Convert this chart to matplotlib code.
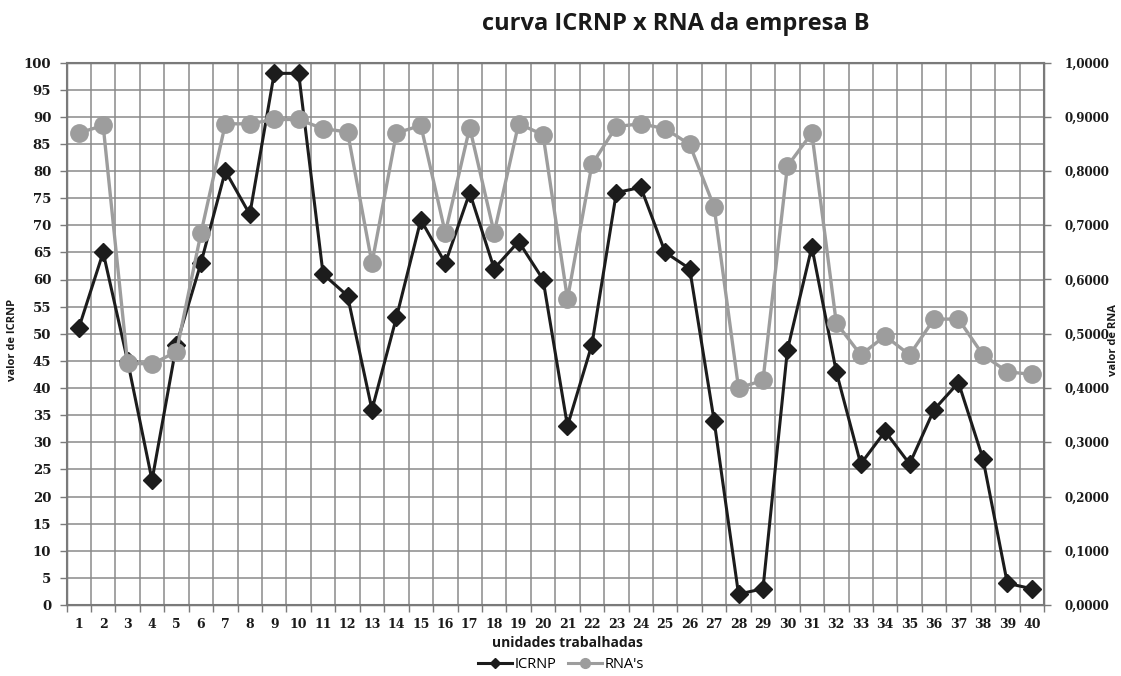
import matplotlib
matplotlib.use("Agg")
import matplotlib.pyplot as plt
from matplotlib.lines import Line2D
from matplotlib.ticker import FuncFormatter, MultipleLocator, FixedLocator
import numpy as np

unidades = list(range(1, 41))
icrnp = [51, 65, 45, 23, 48, 63, 80, 72, 98, 98,
         61, 57, 36, 53, 71, 63, 76, 62, 67, 60,
         33, 48, 76, 77, 65, 62, 34, 2, 3, 47,
         66, 43, 26, 32, 26, 36, 41, 27, 4, 3]
rna = [0.870, 0.884, 0.446, 0.444, 0.467, 0.685, 0.887, 0.887, 0.895, 0.895,
       0.878, 0.872, 0.630, 0.870, 0.884, 0.686, 0.880, 0.686, 0.887, 0.867,
       0.564, 0.812, 0.882, 0.887, 0.878, 0.849, 0.734, 0.400, 0.414, 0.809,
       0.870, 0.520, 0.461, 0.496, 0.461, 0.527, 0.527, 0.461, 0.430, 0.425]

title = "curva ICRNP x RNA da empresa B"
xlabel = "unidades trabalhadas"
ylabel_left = "valor de ICRNP"
ylabel_right = "valor de RNA"

W, H = 1121, 676
fig = plt.figure(figsize=(W / 100, H / 100), dpi=100)
fig.patch.set_facecolor("white")

left, right, top, bottom = 66.5, 1044, 62.5, 605
ax = fig.add_axes([left / W, 1 - bottom / H, (right - left) / W, (bottom - top) / H])
ax2 = ax.twinx()

grid_c = "#8a8a8a"
spine_c = "#7a7a7a"
serif_font = ["DejaVu Serif"]
sans_font = ["Open Sans", "DejaVu Sans"]

ax.set_xlim(0.5, 40.5)
ax.set_ylim(0, 100)
ax2.set_ylim(0, 1.0)

ax.yaxis.set_major_locator(MultipleLocator(5))
ax.xaxis.set_major_locator(FixedLocator(unidades))
ax.xaxis.set_minor_locator(FixedLocator(np.arange(0.5, 41, 1.0)))
ax2.yaxis.set_major_locator(MultipleLocator(0.1))

ax.grid(True, axis="y", which="major", color=grid_c, linewidth=1.1)
ax.grid(True, axis="x", which="minor", color=grid_c, linewidth=1.1)
ax.set_axisbelow(True)

ax.tick_params(axis="x", which="major", length=0, pad=9)
ax.tick_params(axis="x", which="minor", length=5, color=spine_c, width=1.0, direction="out")
ax.tick_params(axis="y", length=5, color=spine_c, width=1.0, pad=6)
ax2.tick_params(axis="y", length=5, color=spine_c, width=1.0, pad=10)

for sp in ax.spines.values():
    sp.set_color(spine_c)
    sp.set_linewidth(1.0)
for sp in ax2.spines.values():
    sp.set_color(spine_c)
    sp.set_linewidth(1.5)

ax.set_xticks(unidades)
ax.set_xticklabels([str(u) for u in unidades], family=serif_font, fontweight="bold",
                   fontsize=9, color="#1a1a1a")
for lab in ax.get_yticklabels():
    lab.set_family(serif_font); lab.set_fontweight("bold"); lab.set_fontsize(9.5); lab.set_color("#1a1a1a")
ax2.yaxis.set_major_formatter(FuncFormatter(lambda v, p: f"{v:.4f}".replace(".", ",")))
for lab in ax2.get_yticklabels():
    lab.set_family(serif_font); lab.set_fontweight("bold"); lab.set_fontsize(8.6); lab.set_color("#1a1a1a")

black = "#1c1c1c"
gray = "#9d9d9d"
ax.plot(unidades, icrnp, color=black, linewidth=2.2, marker="D", markersize=9,
        markerfacecolor=black, markeredgecolor=black, zorder=3, clip_on=False)
ax2.plot(unidades, rna, color=gray, linewidth=2.4, marker="o", markersize=12.5,
         markerfacecolor=gray, markeredgecolor=gray, zorder=3, clip_on=False)

fig.text(676 / W, 1 - 24 / H, title, ha="center", va="center", fontsize=17,
         fontweight="bold", family=sans_font, color="#1a1a1a")
fig.text(567 / W, 1 - 643 / H, xlabel, ha="center", va="center", fontsize=10,
         fontweight="bold", family=sans_font, color="#1a1a1a")
fig.text(13 / W, 1 - 340 / H, ylabel_left, ha="center", va="center", rotation=90,
         fontsize=8, fontweight="bold", family=sans_font, color="#1a1a1a")
fig.text(1114 / W, 1 - 340 / H, ylabel_right, ha="center", va="center", rotation=90,
         fontsize=8, fontweight="bold", family=sans_font, color="#1a1a1a")

handles = [Line2D([0], [0], color=black, linewidth=2.2, marker="D", markersize=5),
           Line2D([0], [0], color=gray, linewidth=2.2, marker="o", markersize=7)]
fig.legend(handles, ["ICRNP", "RNA's"], loc="center", bbox_to_anchor=(561 / W, 1 - 665 / H),
           ncol=2, frameon=False, handlelength=2.3, handletextpad=0.2, columnspacing=0.8,
           prop={"family": sans_font, "size": 10.5})

fig.savefig("out.png", dpi=100, facecolor="white")
